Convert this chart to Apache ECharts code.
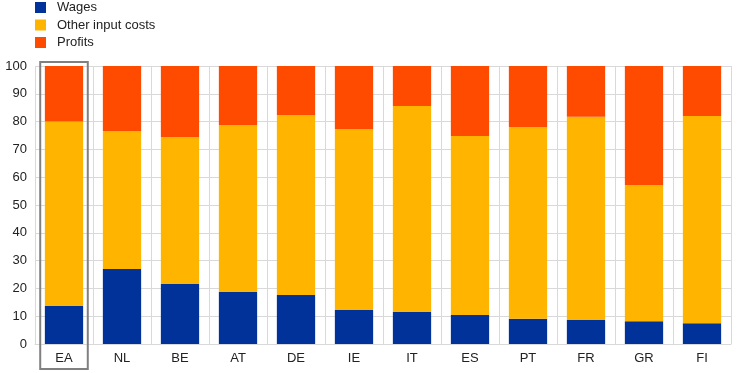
<!DOCTYPE html>
<html><head><meta charset="utf-8">
<script src="https://cdn.jsdelivr.net/npm/echarts@6/dist/echarts.min.js"></script>
<style>html,body{margin:0;padding:0;background:#fff}#c{width:744px;height:373px}</style>
</head><body><div id="c"></div>
<script>
const categories = ['EA','NL','BE','AT','DE','IE','IT','ES','PT','FR','GR','FI'];
const wages = [13.7, 27.0, 21.6, 18.7, 17.6, 12.2, 11.5, 10.4, 9.1, 8.6, 8.2, 7.5];
const otherInputCosts = [66.3, 49.6, 52.9, 60.1, 64.8, 65.1, 74.1, 64.4, 69.0, 73.1, 49.0, 74.5];
const profits = [20.0, 23.4, 25.5, 21.2, 17.6, 22.7, 14.4, 25.2, 21.9, 18.3, 42.8, 18.0];
const highlighted = 'EA';

const chart = echarts.init(document.getElementById('c'), null, {renderer:'canvas'});
const font = 'Arial, "Liberation Sans", sans-serif';
const mk = (name, data, color) => ({
  name, type:'bar', stack:'s', data, barWidth:'66%',
  itemStyle:{color}, emphasis:{disabled:true}
});
chart.setOption({
  animation:false,
  textStyle:{fontFamily:font},
  legend:{
    orient:'vertical', left:35, top:1, padding:0, itemWidth:11, itemHeight:11, itemGap:4.5,
    icon:'rect', textStyle:{fontSize:13, color:'#222', fontFamily:font, padding:[0,0,0,6]},
    data:['Wages','Other input costs','Profits']
  },
  grid:{left:35, right:13, top:66, bottom:29, containLabel:false},
  xAxis:{
    type:'category', data:categories, boundaryGap:true,
    axisLine:{show:true, lineStyle:{color:'#d9d9d9'}},
    axisTick:{show:false},
    splitLine:{show:true, lineStyle:{color:'#d9d9d9'}},
    axisLabel:{color:'#222', fontSize:13, margin:8, fontFamily:font}
  },
  yAxis:{
    type:'value', min:0, max:100, interval:10,
    axisLine:{show:false}, axisTick:{show:false},
    splitLine:{lineStyle:{color:'#d9d9d9'}},
    axisLabel:{color:'#222', fontSize:13, margin:8, fontFamily:font}
  },
  series:[
    mk('Wages', wages, '#003299'),
    mk('Other input costs', otherInputCosts, '#ffb400'),
    mk('Profits', profits, '#ff4b00')
  ]
});
// highlight box around EA, positioned from the axis scales
const cx = chart.convertToPixel({xAxisIndex:0}, highlighted);
const yTop = chart.convertToPixel({yAxisIndex:0}, 100);
const band = chart.getModel().getComponent('xAxis',0).axis.getBandWidth();
const halfW = band*0.41;
chart.setOption({graphic:[{
  type:'rect', shape:{x:cx-halfW, y:yTop-4, width:halfW*2, height:373-4-(yTop-4)},
  style:{fill:null, stroke:'#808080', lineWidth:2}, z:100
}]});
</script></body></html>
